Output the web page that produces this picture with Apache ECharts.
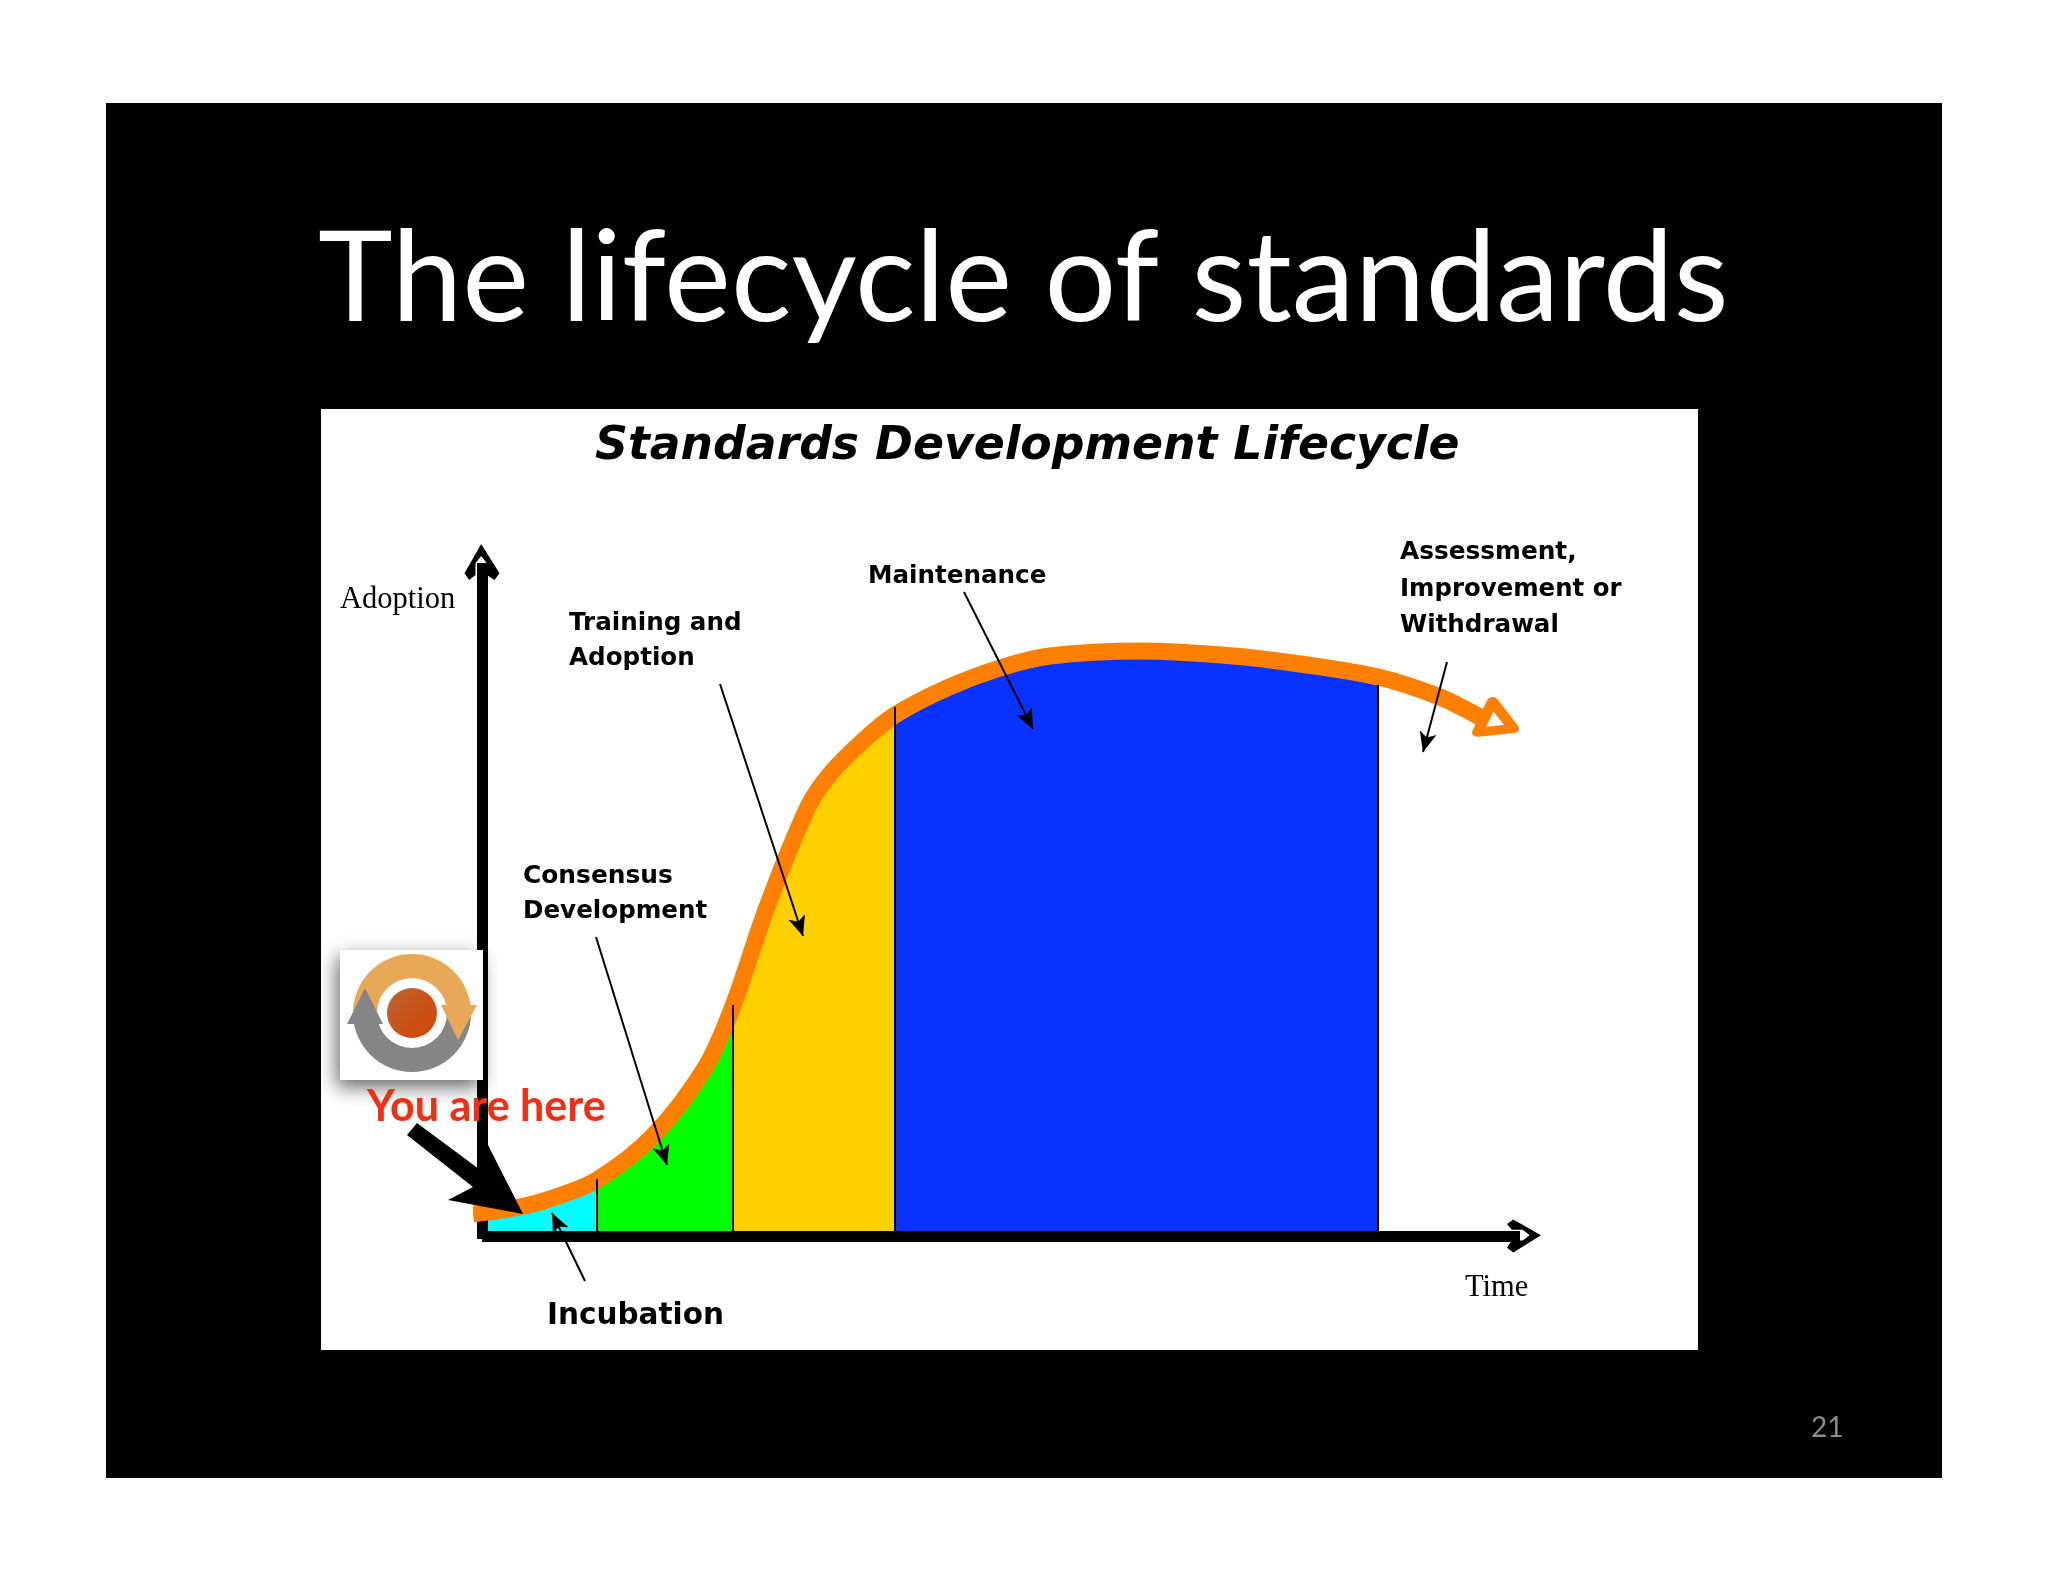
<!DOCTYPE html>
<html>
<head>
<meta charset="utf-8">
<title>The lifecycle of standards</title>
<style>
    html, body { margin: 0; padding: 0; background: #fff; }
    #chart { width: 2048px; height: 1582px; }
</style>
<script src="https://cdn.jsdelivr.net/npm/echarts@6/dist/echarts.min.js"></script>
</head>
<body>
<div id="chart"></div>
<script>
// curve
var timeValues = [-9, 38, 71, 115, 171, 223, 251, 285, 326, 349, 382, 413, 465, 518, 568, 660, 751, 818, 896, 958, 998, 1013];
var adoptionValues = [22, 29, 38, 56, 100, 168, 230, 329, 429, 463, 496, 521, 548, 568, 580, 585, 580, 572, 559, 539, 519, 512];

// phase boundaries on the time axis
var phaseNames = ['Incubation', 'Consensus Development', 'Training and Adoption', 'Maintenance'];
var phaseStart = [6, 115, 251, 413];
var phaseEnd = [115, 251, 413, 896];
var phaseColors = ['#00ffff', '#00ff00', '#ffd000', '#0a32ff'];

// thin divider lines: time, top of line
var dividerTime = [115, 251, 413, 896];
var dividerTop = [57, 231, 529, 551];

// thin arrows: from [time, adoption] to [time, adoption]
var pointerFrom = [[103, -45], [114, 299], [238, 552], [482, 644], [965, 574]];
var pointerTo = [[70, 23], [185, 71], [321, 300], [551, 507], [941, 484]];

var orange = '#ff7f00';
var heavy = '"DejaVu Sans", sans-serif';
var serif = '"Liberation Serif", serif';
var slideFont = 'Lato, "Open Sans", sans-serif';
var chevron = 'path://M50 0 L105 88 L90 108 L67 93 L67 58 L50 36 L33 58 L33 93 L14 108 L0 88 Z';

var myChart = echarts.init(document.getElementById('chart'), null, { renderer: 'canvas' });

var rows = timeValues.map(function (t, i) { return [t, adoptionValues[i]]; });

var label = function (text, x, y, font) {
    return { type: 'text', z: 30, style: { text: text, x: x, y: y, font: font, fill: '#000', textVerticalAlign: 'middle' } };
};

var series = phaseNames.map(function (name, i) {
    return {
        name: name,
        type: 'line',
        smooth: 0.33,
        symbol: 'none',
        clip: false,
        z: 2,
        lineStyle: { width: 0 },
        areaStyle: { color: phaseColors[i], opacity: 1, origin: 'start' },
        data: rows.filter(function (r) { return r[0] >= phaseStart[i] && r[0] <= phaseEnd[i]; })
    };
});
// first zone starts just right of the axis
series[0].data.unshift([phaseStart[0], 24]);

// the curve, ends in an open triangle
series.push({
    name: 'Adoption curve',
    type: 'line',
    smooth: 0.33,
    clip: false,
    z: 4,
    symbol: 'none',
    showSymbol: true,
    showAllSymbol: true,
    lineStyle: { width: 17, color: orange, cap: 'butt' },
    data: rows.map(function (r, i) {
        if (i === rows.length - 1) {
            return {
                value: r,
                symbol: 'triangle',
                symbolSize: [36, 29],
                symbolRotate: 6,
                symbolOffset: [-1, -8],
                itemStyle: { color: '#fff', borderColor: orange, borderWidth: 10, borderJoin: 'round', opacity: 1 }
            };
        }
        return r;
    })
});

series.push({
    name: 'dividers',
    type: 'line',
    clip: false,
    z: 5,
    data: [],
    markLine: {
        silent: true,
        animation: false,
        symbol: 'none',
        label: { show: false },
        lineStyle: { color: '#000', width: 2, type: 'solid' },
        data: dividerTime.map(function (t, i) {
            return [{ coord: [t, 0] }, { coord: [t, dividerTop[i]] }];
        })
    }
});

// these run below the axis, so they live on a second hidden grid that reaches further down
series.push({
    name: 'pointers',
    type: 'line',
    xAxisIndex: 1,
    yAxisIndex: 1,
    clip: false,
    z: 6,
    data: [],
    markLine: {
        silent: true,
        animation: false,
        symbol: ['none', 'arrow'],
        symbolSize: [13, 20],
        label: { show: false },
        lineStyle: { color: '#000', width: 2, type: 'solid' },
        data: pointerFrom.map(function (p, i) {
            return [{ coord: p }, { coord: pointerTo[i] }];
        })
    }
});

var hiddenParts = {
    splitLine: { show: false },
    axisTick: { show: false },
    axisLabel: { show: false }
};

var option = {
    animation: false,
    backgroundColor: '#fff',
    grid: [
        { left: 482, top: 563, width: 1038, height: 673 },
        { left: 482, top: 563, width: 1038, height: 733 }
    ],
    xAxis: [
        Object.assign({
            type: 'value',
            min: 0,
            max: 1038,
            z: 5,
            axisLine: {
                onZero: false,
                symbol: ['none', chevron],
                symbolSize: [33, 36],
                symbolOffset: [0, 4],
                lineStyle: { color: '#000', width: 11, cap: 'butt' }
            }
        }, hiddenParts),
        { type: 'value', gridIndex: 1, min: 0, max: 1038, show: false }
    ],
    yAxis: [
        Object.assign({
            type: 'value',
            min: 0,
            max: 673,
            z: 1,
            axisLine: {
                show: true,
                onZero: false,
                symbol: ['none', chevron],
                symbolSize: [35, 36],
                symbolOffset: [0, 1],
                lineStyle: { color: '#000', width: 11, cap: 'butt' }
            }
        }, hiddenParts),
        { type: 'value', gridIndex: 1, min: -60, max: 673, show: false }
    ],
    graphic: [
        // slide and picture panel
        { type: 'rect', z: -20, shape: { x: 106, y: 103, width: 1836, height: 1375 }, style: { fill: '#000' } },
        { type: 'rect', z: -19, shape: { x: 321, y: 409, width: 1377, height: 941 }, style: { fill: '#fff' } },
        // corner where the two axes meet
        { type: 'rect', z: 1, shape: { x: 477, y: 1230, width: 11, height: 9 }, style: { fill: '#000' } },

        { type: 'text', z: 30, style: { text: 'The lifecycle of standards', x: 318, y: 280, font: '126.6px ' + slideFont, fill: '#fff', textVerticalAlign: 'middle' } },
        { type: 'text', z: 30, style: { text: '21', x: 1811, y: 1428, font: '28px ' + slideFont, fill: '#8c8c8c', textVerticalAlign: 'middle' } },

        label('Standards Development Lifecycle', 595, 447, 'italic bold 45.7px ' + heavy),

        label('Adoption', 340, 600, '30.5px ' + serif),
        label('Time', 1465, 1288, '30.5px ' + serif),
        label('Incubation', 547, 1316, 'bold 29.5px ' + heavy),
        label('Consensus', 523, 877, 'bold 24.9px ' + heavy),
        label('Development', 523, 912, 'bold 24.6px ' + heavy),
        label('Training and', 569, 624, 'bold 24.6px ' + heavy),
        label('Adoption', 569, 659, 'bold 24.6px ' + heavy),
        label('Maintenance', 868, 577, 'bold 24.6px ' + heavy),
        label('Assessment,', 1400, 553, 'bold 24.8px ' + heavy),
        label('Improvement or', 1400, 590, 'bold 24.4px ' + heavy),
        label('Withdrawal', 1400, 626, 'bold 24.6px ' + heavy),

        // logo card
        {
            type: 'rect', z: 20,
            shape: { x: 340, y: 950, width: 143, height: 130 },
            style: { fill: '#fff', shadowBlur: 18, shadowColor: 'rgba(0,0,0,0.6)', shadowOffsetX: -3, shadowOffsetY: 7 }
        },
        { type: 'sector', z: 21, shape: { cx: 412, cy: 1013, r: 59, r0: 35, startAngle: Math.PI, endAngle: Math.PI * 2 }, style: { fill: '#e8a858' } },
        { type: 'sector', z: 21, shape: { cx: 412, cy: 1013, r: 59, r0: 35, startAngle: 0, endAngle: Math.PI }, style: { fill: '#858585' } },
        { type: 'polygon', z: 22, shape: { points: [[365, 988], [347, 1024], [383, 1024]] }, style: { fill: '#858585' } },
        { type: 'polygon', z: 22, shape: { points: [[441, 1005], [477, 1005], [458, 1040]] }, style: { fill: '#e8a858' } },
        {
            type: 'circle', z: 22,
            shape: { cx: 412, cy: 1013, r: 25 },
            style: {
                fill: new echarts.graphic.LinearGradient(0, 0, 1, 1, [
                    { offset: 0, color: '#bf6435' },
                    { offset: 1, color: '#d24400' }
                ])
            }
        },

        // you are here
        { type: 'text', z: 30, style: { text: 'You are here', x: 367, y: 1107, font: 'bold 43px ' + slideFont, fill: '#f03010', textVerticalAlign: 'middle' } },
        {
            type: 'polygon', z: 25,
            shape: { points: [[407, 1135], [417, 1123], [483, 1172], [488, 1145], [523, 1214], [448, 1200], [473, 1187]] },
            style: { fill: '#000' }
        }
    ],
    series: series
};

myChart.setOption(option);
</script>
</body>
</html>
